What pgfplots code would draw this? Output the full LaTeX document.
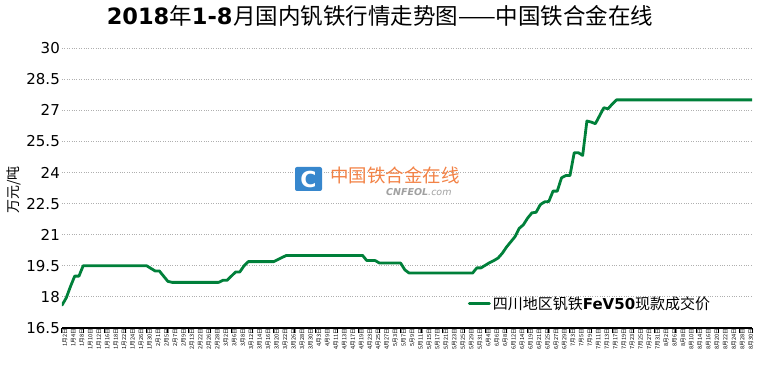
\documentclass[border=0pt]{standalone}
\usepackage{fontspec}
\setmainfont{DejaVu Sans}
\newfontfamily\cjk{Noto Sans CJK SC}
\usepackage{pgfplots}
\pgfplotsset{compat=1.18}
\definecolor{lineg}{RGB}{0,128,58}
\definecolor{gridc}{RGB}{175,175,175}
\definecolor{logob}{RGB}{55,135,205}
\definecolor{logoo}{RGB}{242,130,70}
\definecolor{logog}{RGB}{160,160,160}
\begin{document}
\begin{tikzpicture}[x=1pt,y=1pt]
\begin{axis}[
  scale only axis,
  width=690pt, height=280pt,
  xmin=0, xmax=163, ymin=16.5, ymax=30,
  axis x line*=bottom, axis y line*=left,
  y axis line style={draw=none},
  x axis line style={line width=1.2pt, black},
  ytick={16.5,18,19.5,21,22.5,24,25.5,27,28.5,30},
  yticklabels={16.5,18,19.5,21,22.5,24,25.5,27,28.5,30},
  ytick style={draw=none},
  ymajorgrids, grid style={gridc, dotted, line width=0.9pt},
  y tick label style={font=\fontsize{15}{15}\selectfont, inner sep=1pt, xshift=-1pt},
  xtick={0,2,...,162},
  xticklabels={1月2日,1月4日,1月8日,1月10日,1月12日,1月16日,1月18日,1月22日,1月24日,1月26日,1月30日,
  2月1日,2月5日,2月7日,2月9日,2月13日,2月22日,2月26日,2月28日,
  3月2日,3月6日,3月8日,3月12日,3月14日,3月16日,3月20日,3月22日,3月26日,3月28日,3月30日,
  4月3日,4月9日,4月11日,4月13日,4月17日,4月19日,4月23日,4月25日,4月27日,
  5月3日,5月7日,5月9日,5月11日,5月15日,5月17日,5月21日,5月23日,5月25日,5月29日,5月31日,
  6月4日,6月6日,6月8日,6月12日,6月14日,6月19日,6月21日,6月25日,6月27日,6月29日,
  7月3日,7月5日,7月9日,7月11日,7月13日,7月17日,7月19日,7月23日,7月25日,7月27日,7月31日,
  8月2日,8月6日,8月8日,8月10日,8月14日,8月16日,8月20日,8月22日,8月24日,8月28日,8月30日},
  xtick style={draw=none},
  x tick label style={font=\cjk\fontsize{5.6}{5.6}\selectfont, rotate=90, anchor=east, inner sep=0.5pt, yshift=-3pt},
  extra x ticks={0,5,...,160,163},
  extra x tick labels={},
  extra x tick style={xtick style={draw=black, line width=1pt}, tick align=outside, major tick length=5pt, grid=none},
  legend style={at={(0.588,0.086)}, anchor=west, draw=none, fill=none, inner sep=0pt,
     font=\fontsize{15}{15}\selectfont},
  legend cell align=left,
  legend image code/.code={\draw[lineg, line width=3pt] (0pt,0pt) -- (20pt,0pt);},
]
\addplot[lineg, line width=2.8pt, line join=round, line cap=round] coordinates {
(0,17.6) (1,17.95) (2,18.5) (3,19.0) (4,19.0) (5,19.5)
(20,19.5) (22,19.25) (23,19.25) (24,19.0) (25,18.75) (26,18.7)
(37,18.7) (38,18.8) (39,18.8) (41,19.2) (42,19.2) (43,19.5) (44,19.7)
(50,19.7) (52,19.9) (53,20.0)
(71,20.0) (72,19.75) (74,19.75) (75,19.63) (80,19.63) (81,19.3) (82,19.15)
(97,19.15) (98,19.4) (99,19.4) (101,19.65) (102,19.75) (103,19.87) (104,20.1)
(105,20.4) (106,20.65) (107,20.9) (108,21.3) (109,21.48) (110,21.8) (111,22.05)
(112,22.08) (113,22.45) (114,22.58) (115,22.6) (116,23.1) (117,23.1) (118,23.74)
(119,23.85) (120,23.85) (121,24.95) (122,24.95) (123,24.82) (124,26.48) (125,26.43)
(126,26.35) (128,27.12) (129,27.07) (130,27.3) (131,27.5) (163,27.5)
};
\addlegendentry{{\cjk 四川地区钒铁}{\bfseries FeV50}{\cjk 现款成交价}}
\end{axis}
% title
\node at (318,312.5) {\fontsize{22.5}{25}\selectfont{\bfseries 2018}{\cjk 年}{\bfseries 1-8}\hspace{0.5pt}{\cjk 月国内钒铁行情走势图——中国铁合金在线}};
% y label
\node[rotate=90] at (-48,138) {\cjk\fontsize{14}{14}\selectfont 万元/吨};
% watermark
\fill[logob,rounded corners=2pt] (233,137) rectangle (260,161);
\node[white] at (246.5,149) {\fontsize{22}{22}\selectfont\bfseries C};
\node[logoo,anchor=west,inner sep=0pt] at (268,152.3) {\cjk\fontsize{18.5}{18.5}\selectfont 中国铁合金在线};
\node[logog,anchor=west,inner sep=0pt] at (324,135.5) {\fontsize{9.5}{9.5}\selectfont\itshape\bfseries CNFEOL\mdseries.com};
\pgfresetboundingbox
\path[use as bounding box] (-62,-36) rectangle (698,328);
\end{tikzpicture}
\end{document}
